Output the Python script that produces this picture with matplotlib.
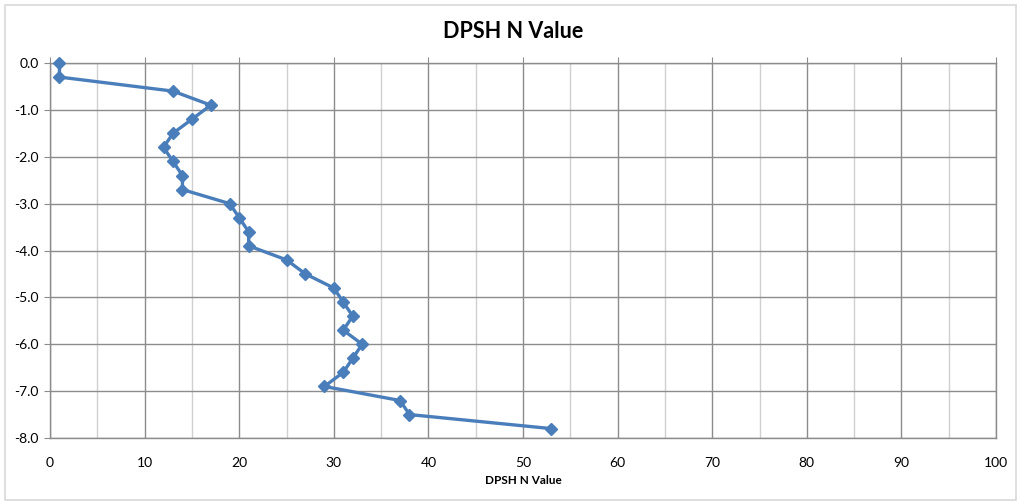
import matplotlib
matplotlib.use('Agg')
import matplotlib.pyplot as plt
from matplotlib.patches import Rectangle
from matplotlib.ticker import MultipleLocator, StrMethodFormatter

plt.rcParams['font.family'] = ['Lato', 'DejaVu Sans']
plt.rcParams['axes.unicode_minus'] = False

# depth (m) and DPSH N value
depth = [0.0, -0.3, -0.6, -0.9, -1.2, -1.5, -1.8, -2.1, -2.4, -2.7,
         -3.0, -3.3, -3.6, -3.9, -4.2, -4.5, -4.8, -5.1, -5.4, -5.7,
         -6.0, -6.3, -6.6, -6.9, -7.2, -7.5, -7.8]
n_value = [1, 1, 13, 17, 15, 13, 12, 13, 14, 14,
           19, 20, 21, 21, 25, 27, 30, 31, 32, 31,
           33, 32, 31, 29, 37, 38, 53]

fig = plt.figure(figsize=(10.21, 5.03), dpi=100)
W, H = 1021, 503
ax = fig.add_axes([50 / W, 1 - 438 / H, (996 - 50) / W, (438 - 63) / H])

# outer chart frame
fig.patches.append(Rectangle((5 / W, 3 / H), 1011 / W, 495 / H, transform=fig.transFigure,
                             fill=False, edgecolor='#d9d9d9', linewidth=1.2))

ax.set_xlim(0, 100)
ax.set_ylim(-8, 0)
ax.xaxis.set_major_locator(MultipleLocator(10))
ax.xaxis.set_minor_locator(MultipleLocator(5))
ax.yaxis.set_major_locator(MultipleLocator(1))
ax.yaxis.set_major_formatter(StrMethodFormatter('{x:.1f}'))

ax.grid(which='major', color='#8c8c8c', linewidth=1.0)
ax.grid(which='minor', axis='x', color='#d0d0d0', linewidth=1.0)
ax.set_axisbelow(True)

for s in ['top', 'left', 'right', 'bottom']:
    ax.spines[s].set_color('#8c8c8c')
    ax.spines[s].set_linewidth(1.0)

ax.tick_params(axis='x', which='major', top=True, bottom=False, direction='out',
               length=4, color='#8c8c8c', labelsize=10, pad=10, labelcolor='#000000')
ax.tick_params(axis='x', which='minor', top=False, bottom=False)
ax.tick_params(axis='y', which='major', left=True, direction='out',
               length=4, color='#8c8c8c', labelsize=10, pad=4)

ax.plot(n_value, depth, color='#4a7ebb', linewidth=2.4, marker='D',
        markersize=6, markerfacecolor='#4a7ebb', markeredgecolor='#4a7ebb',
        zorder=3, clip_on=False)

ax.set_xlabel('DPSH N Value', fontsize=8.5, fontweight='bold', labelpad=4)
fig.text(513 / W, 1 - 32 / H, 'DPSH N Value', ha='center', va='center',
         fontsize=15.5, fontweight='bold')

fig.savefig('out.png', dpi=100)
